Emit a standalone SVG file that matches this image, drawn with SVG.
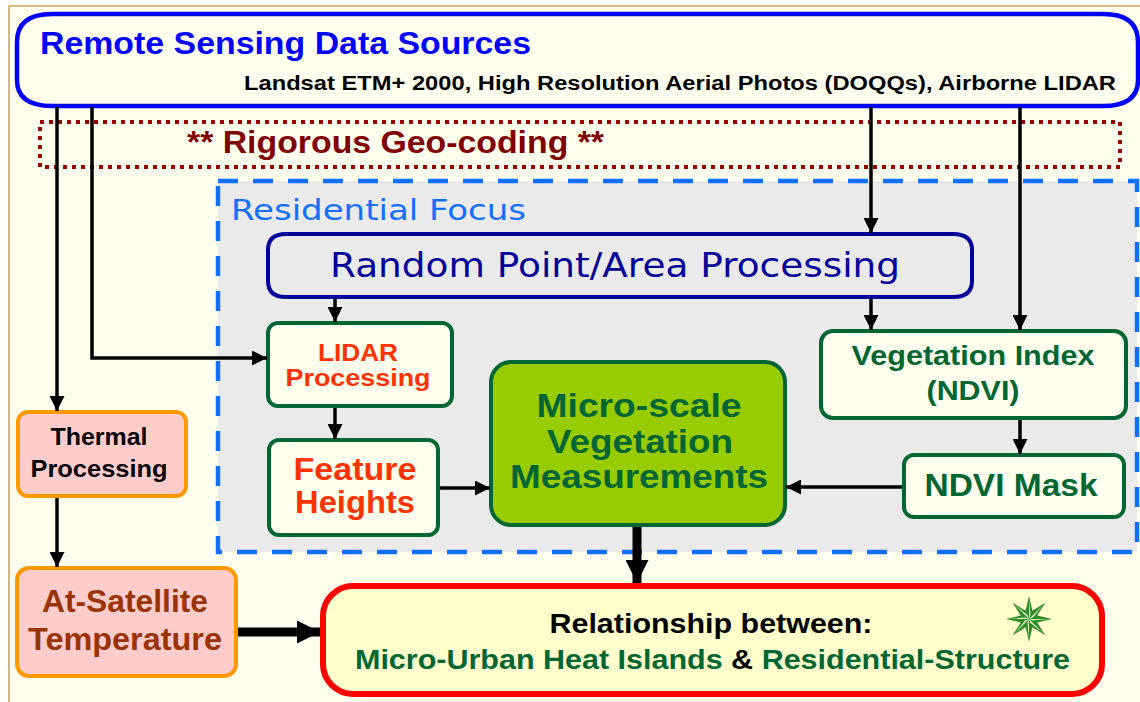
<svg xmlns="http://www.w3.org/2000/svg" width="1140" height="702" viewBox="0 0 1140 702">
<defs>
<style>
.b{font-family:"Liberation Sans",Arial,sans-serif;font-weight:bold}
.v{font-family:"DejaVu Sans",Verdana,sans-serif}
.conn{stroke:#000;stroke-width:3.5;fill:none}
.thick{stroke:#000;stroke-width:9;fill:none}
.gbox{fill:#FFFFEE;stroke:#006633;stroke-width:4}
.obox{fill:#FFCCCC;stroke:#FF9900;stroke-width:4}
.g{fill:#006633}
.o{fill:#FF3300}
</style>
<marker id="ah" markerUnits="userSpaceOnUse" markerWidth="15" markerHeight="15" refX="15" refY="7.5" orient="auto">
<path d="M0,0 L15,7.5 L0,15 z" fill="#000"/>
</marker>
<marker id="ahb" markerUnits="userSpaceOnUse" markerWidth="23" markerHeight="23" refX="23" refY="11.5" orient="auto">
<path d="M0,0 L23,11.5 L0,23 z" fill="#000"/>
</marker>
</defs>
<rect x="0" y="0" width="1140" height="702" fill="#FFFFFF"/>
<rect x="9" y="6" width="1140" height="710" fill="#FFFFEE" stroke="#C8A060" stroke-width="1.5"/>

<g id="sources">
<path d="M52,14 H1103 Q1138,14 1138,42 V80 Q1138,106 1103,106 H52 Q17,106 17,80 V42 Q17,14 52,14 Z" fill="#FFFFEE" stroke="#0000FF" stroke-width="4.5"/>
<text class="b" x="40" y="54" font-size="32" fill="#0000FF" textLength="491" lengthAdjust="spacingAndGlyphs">Remote Sensing Data Sources</text>
<text class="b" x="244" y="90" font-size="20" fill="#000" textLength="872" lengthAdjust="spacingAndGlyphs">Landsat ETM+ 2000, High Resolution Aerial Photos (DOQQs), Airborne LIDAR</text>
</g>

<g id="geocoding">
<rect x="40" y="122" width="1080" height="45" fill="none" stroke="#990000" stroke-width="4" stroke-dasharray="4,5"/>
<text class="b" x="187" y="153" font-size="32" fill="#800000" textLength="417" lengthAdjust="spacingAndGlyphs">** Rigorous Geo-coding **</text>
</g>

<g id="residential">
<rect x="218" y="181" width="919" height="371" fill="#EAEAEA" stroke="#1170FF" stroke-width="4.5" stroke-dasharray="20,15"/>
<text class="v" x="231" y="220" font-size="29" fill="#1170FF" textLength="295" lengthAdjust="spacingAndGlyphs">Residential Focus</text>
</g>

<g id="random">
<path d="M286,234 H953 Q972,234 972,250 V281 Q972,297 953,297 H286 Q268,297 268,281 V250 Q268,234 286,234 Z" fill="#EAEAEA" stroke="#000099" stroke-width="4"/>
<text class="v" x="330" y="277" font-size="33" fill="#000099" textLength="570" lengthAdjust="spacingAndGlyphs">Random Point/Area Processing</text>
</g>

<g id="lidar">
<rect class="gbox" x="268" y="323" width="184" height="83" rx="10"/>
<text class="b o" x="358" y="361" font-size="23" text-anchor="middle" textLength="80" lengthAdjust="spacingAndGlyphs">LIDAR</text>
<text class="b o" x="358" y="386" font-size="23" text-anchor="middle" textLength="145" lengthAdjust="spacingAndGlyphs">Processing</text>
</g>

<g id="feature">
<rect class="gbox" x="269" y="440" width="169" height="95" rx="10"/>
<text class="b o" x="355" y="480" font-size="32" text-anchor="middle" textLength="123" lengthAdjust="spacingAndGlyphs">Feature</text>
<text class="b o" x="355" y="513" font-size="32" text-anchor="middle" textLength="120" lengthAdjust="spacingAndGlyphs">Heights</text>
</g>

<g id="micro">
<rect x="491" y="362" width="294" height="163" rx="20" fill="#99CC00" stroke="#006633" stroke-width="4"/>
<text class="b g" x="639" y="417" font-size="34" text-anchor="middle" textLength="205" lengthAdjust="spacingAndGlyphs">Micro-scale</text>
<text class="b g" x="640" y="453" font-size="34" text-anchor="middle" textLength="186" lengthAdjust="spacingAndGlyphs">Vegetation</text>
<text class="b g" x="639" y="488" font-size="34" text-anchor="middle" textLength="258" lengthAdjust="spacingAndGlyphs">Measurements</text>
</g>

<g id="vegindex">
<rect class="gbox" x="821" y="331" width="305" height="87" rx="12"/>
<text class="b g" x="973" y="365" font-size="28" text-anchor="middle" textLength="243" lengthAdjust="spacingAndGlyphs">Vegetation Index</text>
<text class="b g" x="973" y="400" font-size="28" text-anchor="middle" textLength="93" lengthAdjust="spacingAndGlyphs">(NDVI)</text>
</g>

<g id="ndvimask">
<rect class="gbox" x="904" y="455" width="220" height="62" rx="10"/>
<text class="b g" x="1011" y="496" font-size="32" text-anchor="middle" textLength="173" lengthAdjust="spacingAndGlyphs">NDVI Mask</text>
</g>

<g id="thermal">
<rect class="obox" x="18" y="412" width="168" height="84" rx="10"/>
<text class="b" x="99" y="445" font-size="24" fill="#000" text-anchor="middle" textLength="97" lengthAdjust="spacingAndGlyphs">Thermal</text>
<text class="b" x="99" y="477" font-size="24" fill="#000" text-anchor="middle" textLength="137" lengthAdjust="spacingAndGlyphs">Processing</text>
</g>

<g id="atsat">
<rect class="obox" x="17" y="568" width="219" height="108" rx="12"/>
<text class="b" x="125" y="612" font-size="31" fill="#993300" text-anchor="middle" textLength="166" lengthAdjust="spacingAndGlyphs">At-Satellite</text>
<text class="b" x="125" y="650" font-size="31" fill="#993300" text-anchor="middle" textLength="194" lengthAdjust="spacingAndGlyphs">Temperature</text>
</g>

<g id="relationship">
<rect x="323" y="586" width="779" height="108" rx="30" fill="#FFFFCC" stroke="#FF0000" stroke-width="6"/>
<text class="b" x="711" y="633" font-size="28" fill="#000" text-anchor="middle" textLength="323" lengthAdjust="spacingAndGlyphs">Relationship between:</text>
<text class="b" x="355" y="669" font-size="28" textLength="715" lengthAdjust="spacingAndGlyphs"><tspan fill="#006633">Micro-Urban Heat Islands </tspan><tspan fill="#000">&amp;</tspan><tspan fill="#006633"> Residential-Structure</tspan></text>
<g transform="translate(1029,619)">
<polygon points="0,-23 3.4,-8.2 16.3,-16.3 8.2,-3.4 23,0 8.2,3.4 16.3,16.3 3.4,8.2 0,23 -3.4,8.2 -16.3,16.3 -8.2,3.4 -23,0 -8.2,-3.4 -16.3,-16.3 -3.4,-8.2" fill="#2F8A2A"/>
<path d="M0,-20 L1.5,-4 L0,0 Z M14.1,-14.1 L4,-1.5 L0,0 Z M20,0 L4,1.5 L0,0 Z M14.1,14.1 L1.5,4 L0,0 Z M0,20 L-1.5,4 L0,0 Z M-14.1,14.1 L-4,1.5 L0,0 Z M-20,0 L-4,-1.5 L0,0 Z M-14.1,-14.1 L-1.5,-4 L0,0 Z" fill="#D8F0B8"/>
</g>
</g>

<g id="connectors">
<line class="conn" x1="57" y1="107" x2="57" y2="411" marker-end="url(#ah)"/>
<path class="conn" d="M92,107 V358 H267" marker-end="url(#ah)"/>
<line class="conn" x1="871" y1="107" x2="871" y2="233" marker-end="url(#ah)"/>
<line class="conn" x1="1020" y1="107" x2="1020" y2="330" marker-end="url(#ah)"/>
<line class="conn" x1="335" y1="299" x2="335" y2="322" marker-end="url(#ah)"/>
<line class="conn" x1="871" y1="299" x2="871" y2="330" marker-end="url(#ah)"/>
<line class="conn" x1="335" y1="408" x2="335" y2="439" marker-end="url(#ah)"/>
<line class="conn" x1="440" y1="488" x2="490" y2="488" marker-end="url(#ah)"/>
<line class="conn" x1="902" y1="487" x2="786" y2="487" marker-end="url(#ah)"/>
<line class="conn" x1="1020" y1="420" x2="1020" y2="454" marker-end="url(#ah)"/>
<line class="conn" x1="57" y1="498" x2="57" y2="567" marker-end="url(#ah)"/>
<line class="thick" x1="238" y1="632" x2="320" y2="632" marker-end="url(#ahb)"/>
<line class="thick" x1="637" y1="527" x2="637" y2="583" marker-end="url(#ahb)"/>
</g>
</svg>
